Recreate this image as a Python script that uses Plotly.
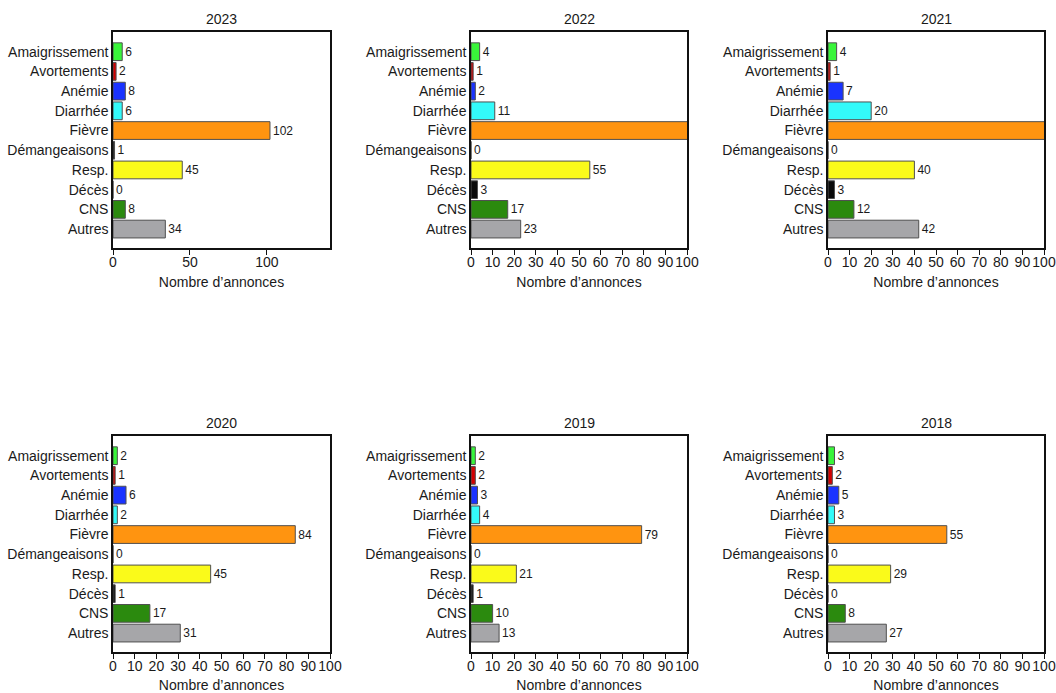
import plotly.graph_objects as go

categories = ["Amaigrissement", "Avortements", "Anémie", "Diarrhée", "Fièvre",
              "Démangeaisons", "Resp.", "Décès", "CNS", "Autres"]
bar_colors = ["#39f53a", "#d40000", "#1a33ff", "#33fafa", "#ff9410",
              "#111111", "#fafa1a", "#0a0a0a", "#2b8a0e", "#a6a6a9"]

years = ["2023", "2022", "2021", "2020", "2019", "2018"]
v2023 = [6, 2, 8, 6, 102, 1, 45, 0, 8, 34]
v2022 = [4, 1, 2, 11, 110, 0, 55, 3, 17, 23]
v2021 = [4, 1, 7, 20, 112, 0, 40, 3, 12, 42]
v2020 = [2, 1, 6, 2, 84, 0, 45, 1, 17, 31]
v2019 = [2, 2, 3, 4, 79, 0, 21, 1, 10, 13]
v2018 = [3, 2, 5, 3, 55, 0, 29, 0, 8, 27]
values = [v2023, v2022, v2021, v2020, v2019, v2018]

x_max = [141, 100, 100, 100, 100, 100]
x_dtick = [50, 10, 10, 10, 10, 10]

W, H = 1056, 693
FONT = "Liberation Sans, Arial, sans-serif"
TXT = "#1a1a1a"

# pixel boxes of plot areas (left, right, top, bottom)
cols_px = [(113, 330), (471, 687), (828, 1044)]
rows_px = [(32, 248), (436, 652)]

fig = go.Figure()
layout = dict(
    width=W, height=H, margin=dict(l=0, r=0, t=0, b=0),
    paper_bgcolor="white", plot_bgcolor="white", showlegend=False,
    font=dict(family=FONT, size=14, color=TXT),
    annotations=[],
)

for i, (yr, vals) in enumerate(zip(years, values)):
    r, c = divmod(i, 3)
    xl, xr = cols_px[c]
    yt, yb = rows_px[r]
    xa = "xaxis" if i == 0 else f"xaxis{i+1}"
    ya = "yaxis" if i == 0 else f"yaxis{i+1}"
    xs = "x" if i == 0 else f"x{i+1}"
    ys = "y" if i == 0 else f"y{i+1}"
    labels = [str(v) if v <= x_max[i] else "" for v in vals]
    fig.add_trace(go.Bar(
        x=vals, y=categories, orientation="h",
        marker=dict(color=bar_colors, line=dict(color="#505050", width=1)),
        width=0.9,
        text=labels, textposition="outside", constraintext="none",
        textfont=dict(family=FONT, size=12, color=TXT),
        cliponaxis=True,
        xaxis=xs, yaxis=ys, hoverinfo="x+y",
    ))
    layout[xa] = dict(
        domain=[xl / W, xr / W], anchor=ys,
        range=[0, x_max[i]], dtick=x_dtick[i], tick0=0, tickangle=0,
        showgrid=False, zeroline=False,
        showline=True, linecolor="#111111", linewidth=1.5, mirror=True,
        ticks="outside", ticklen=5, tickwidth=1, tickcolor="#111111",
        ticklabelstandoff=-5,
        tickfont=dict(family=FONT, size=14, color=TXT),
        title=dict(text="Nombre d’annonces", standoff=9,
                   font=dict(family=FONT, size=14, color=TXT)),
        automargin=False, fixedrange=True,
    )
    layout[ya] = dict(
        domain=[1 - yb / H, 1 - yt / H], anchor=xs,
        type="category", categoryorder="array", categoryarray=categories,
        range=[9.96, -1.0],
        showgrid=False, zeroline=False,
        showline=True, linecolor="#111111", linewidth=1.5, mirror=True,
        ticks="", ticklabelstandoff=0,
        tickfont=dict(family=FONT, size=14, color=TXT),
        automargin=False, fixedrange=True,
    )
    layout["annotations"].append(dict(
        text=yr, xref="paper", yref="paper",
        x=(xl + xr) / 2 / W, y=1 - (yt - 3) / H,
        xanchor="center", yanchor="bottom", showarrow=False,
        font=dict(family=FONT, size=14, color=TXT),
    ))

fig.update_layout(**layout)
fig.write_html(
    "out.html",
    post_script="document.body.style.margin='0';document.body.style.overflow='hidden';",
)
